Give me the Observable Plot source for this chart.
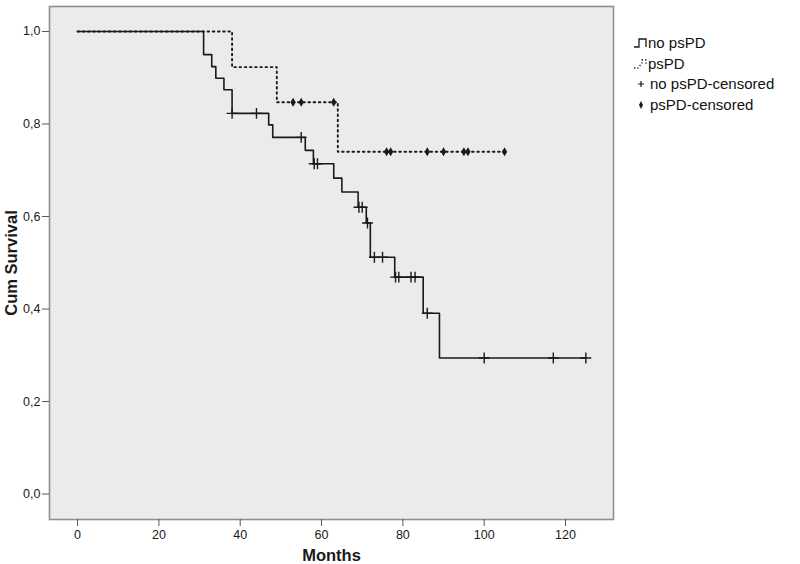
<!DOCTYPE html>
<html>
<head>
<meta charset="utf-8">
<script src="https://cdn.jsdelivr.net/npm/d3@7"></script>
<script src="https://cdn.jsdelivr.net/npm/@observablehq/plot@0.6"></script>
<style>
  body { margin: 0; background: #fff; font-family: "Liberation Sans", Arial, sans-serif; }
  #wrap { position: relative; width: 800px; height: 564px; }
  #legend { position: absolute; left: 633px; top: 33px; font-size: 15px; color: #111; line-height: 20.5px; }
  #legend .row { display: flex; align-items: center; height: 20.5px; }
  #legend svg { display: block; }
</style>
</head>
<body>
<div id="wrap">
  <div id="chart"></div>
  <div id="legend"></div>
</div>
<script>
// ---- Data ----
const groups = ["no psPD", "psPD"];

// no psPD: step times (months) and survival after each step
const noTimes = [0, 31, 33, 34, 36, 38, 47, 48, 56, 58, 63, 65, 69, 71, 72, 78, 85, 89, 125];
const noSurv  = [1.0, 0.950, 0.924, 0.899, 0.874, 0.823, 0.798, 0.771, 0.743, 0.714, 0.683, 0.653, 0.620, 0.586, 0.512, 0.469, 0.391, 0.294, 0.294];
// no psPD censored
const noCensTimes = [38, 44, 55, 58.2, 59, 69.2, 70, 71.3, 73, 75, 78.2, 79, 82, 83, 86, 100, 117, 125];
const noCensSurv  = [0.823, 0.823, 0.771, 0.714, 0.714, 0.620, 0.620, 0.586, 0.512, 0.512, 0.469, 0.469, 0.469, 0.469, 0.391, 0.294, 0.294, 0.294];

// psPD
const psTimes = [0, 38, 49, 64, 105];
const psSurv  = [1.0, 0.923, 0.847, 0.740, 0.740];
const psCensTimes = [53, 55, 63, 76, 77, 86, 90, 95, 96, 105];
const psCensSurv  = [0.847, 0.847, 0.847, 0.740, 0.740, 0.740, 0.740, 0.740, 0.740, 0.740];

const xTicks = [0, 20, 40, 60, 80, 100, 120];
const yTicks = [0, 0.2, 0.4, 0.6, 0.8, 1.0];

// ---- Tables ----
const noLine = noTimes.map((t, i) => ({t, s: noSurv[i]}));
const psLine = psTimes.map((t, i) => ({t, s: psSurv[i]}));
const noCens = noCensTimes.map((t, i) => ({t, s: noCensSurv[i]}));
const psCens = psCensTimes.map((t, i) => ({t, s: psCensSurv[i]}));

const fmt = d => d.toFixed(1).replace(".", ",");
const ink = "#1a1a1a";

const chart = Plot.plot({
  width: 800,
  height: 564,
  marginLeft: 49,
  marginRight: 187,
  marginTop: 6,
  marginBottom: 45,
  style: { fontFamily: "Liberation Sans, Arial, sans-serif", background: "#fff", color: ink },
  x: { domain: [-6.9, 131.8] },
  y: { domain: [-0.055, 1.054] },
  marks: [
    Plot.frame({ fill: "#ebebeb", stroke: "#8f8f8f", strokeWidth: 1.6 }),
    Plot.axisX({ ticks: xTicks, tickSize: 7, tickPadding: 4, fontSize: 12.5, stroke: "#555",
      label: "Months", labelAnchor: "center", labelArrow: "none", labelOffset: 41 }),
    Plot.axisY({ ticks: yTicks, tickSize: 7, tickPadding: 2, fontSize: 12.5, tickFormat: fmt, stroke: "#555",
      label: "Cum Survival", labelAnchor: "center", labelArrow: "none", labelOffset: 44 }),
    Plot.line(psLine, { x: "t", y: "s", curve: "step-after", stroke: ink, strokeWidth: 1.9, strokeDasharray: "1.6,3.6" }),
    Plot.line(noLine, { x: "t", y: "s", curve: "step-after", stroke: ink, strokeWidth: 1.6 }),
    Plot.dot(noCens, { x: "t", y: "s", symbol: "plus", r: 3.6, stroke: ink, strokeWidth: 1.4 }),
    Plot.dot(psCens, { x: "t", y: "s", symbol: "diamond", r: 2.8, fill: ink, stroke: "none" })
  ]
});
document.getElementById("chart").appendChild(chart);

// Style axis labels bold
chart.querySelectorAll("g[aria-label='x-axis label'] text, g[aria-label='y-axis label'] text").forEach(t => {
  t.setAttribute("font-weight", "bold");
  t.setAttribute("font-size", "16.5");
});

// ---- Legend ----
const legendItems = [
  { label: groups[0], kind: "solid" },
  { label: groups[1], kind: "dotted" },
  { label: groups[0] + "-censored", kind: "plus" },
  { label: groups[1] + "-censored", kind: "diamond" }
];
const legend = d3.select("#legend");
legendItems.forEach(item => {
  const row = legend.append("div").attr("class", "row");
  const svg = row.append("svg").attr("width", item.kind === "solid" || item.kind === "dotted" ? 15 : 17).attr("height", 16);
  if (item.kind === "solid") {
    svg.append("path").attr("d", "M1,12H6V4H13V12").attr("fill", "none").attr("stroke", ink).attr("stroke-width", 1.3);
  } else if (item.kind === "dotted") {
    svg.append("path").attr("d", "M1,12H5L9,7V4H13V9").attr("fill", "none").attr("stroke", ink).attr("stroke-width", 1.3).attr("stroke-dasharray", "1.3,2");
  } else if (item.kind === "plus") {
    svg.append("path").attr("d", "M8,5V11M5,8H11").attr("stroke", ink).attr("stroke-width", 1.2);
  } else {
    svg.append("path").attr("d", "M8,4L10,8L8,12L6,8Z").attr("fill", ink);
  }
  row.append("span").text(item.label);
});
</script>
</body>
</html>
